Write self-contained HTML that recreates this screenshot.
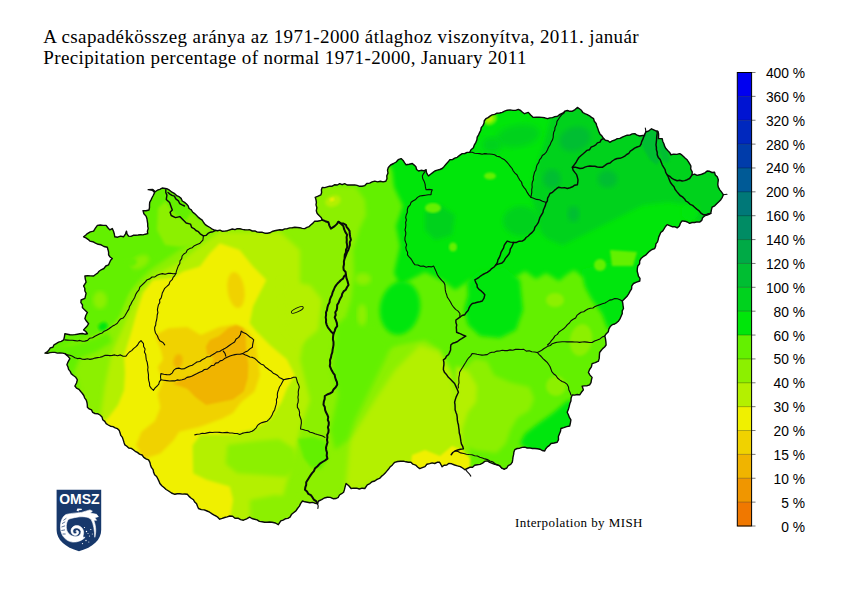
<!DOCTYPE html>
<html><head><meta charset="utf-8"><title>Precipitation percentage of normal</title>
<style>
html,body{margin:0;padding:0;background:#fff;}
body{width:842px;height:595px;overflow:hidden;position:relative;font-family:"Liberation Serif",serif;}
svg{position:absolute;left:0;top:0;}
.t{font-family:"Liberation Serif",serif;font-size:19px;fill:#000;}
.lg{font-family:"Liberation Sans",sans-serif;font-size:13.8px;fill:#000;}
.ip{font-family:"Liberation Serif",serif;font-size:13px;fill:#000;letter-spacing:0.55px;}
</style></head><body>
<svg width="842" height="595" viewBox="0 0 842 595">
<defs>
<clipPath id="hu"><polygon points="148.2,189.6 152.8,189.4 155.2,191.8 157.4,190.2 159.9,189.3 162.2,188.0 166.7,188.7 169.5,190.2 172.0,192.2 174.7,193.7 176.6,195.6 179.1,196.7 181.1,198.4 182.3,201.0 184.6,202.4 186.5,204.0 188.2,205.9 189.1,208.5 191.3,209.8 192.6,212.0 194.6,213.6 196.4,215.2 198.1,217.1 200.0,218.6 202.2,220.1 203.6,222.5 205.3,224.6 207.5,226.1 210.0,227.5 212.3,229.2 215.0,230.3 217.5,230.7 220.0,230.1 222.4,231.3 224.9,231.1 227.4,230.7 229.8,229.8 232.3,229.0 235.0,229.6 237.4,228.6 239.9,228.8 242.4,229.4 244.8,229.8 247.4,229.9 249.9,229.8 252.3,231.0 254.9,230.9 257.3,232.1 259.9,232.3 262.4,232.3 264.8,233.2 267.3,233.2 269.8,232.8 272.1,231.5 274.7,230.8 277.2,230.2 279.8,229.8 282.4,230.0 284.8,228.9 287.3,228.7 289.8,227.9 292.3,227.7 294.8,227.3 297.3,227.5 299.8,227.7 302.2,228.4 304.7,228.6 306.9,227.4 309.2,226.6 311.0,224.8 313.0,223.1 314.7,221.1 317.3,221.3 319.8,220.8 322.2,219.9 321.1,217.4 319.1,215.6 317.2,213.6 316.3,210.8 316.9,207.7 316.0,204.9 316.4,202.3 316.0,199.8 315.2,197.4 318.1,196.2 320.9,194.9 321.6,192.5 321.4,189.8 322.2,187.4 324.8,187.6 327.2,186.9 329.7,186.2 332.2,186.2 334.5,184.8 337.4,185.0 339.7,183.7 342.1,184.7 344.7,183.7 347.1,185.0 349.6,184.9 352.1,185.0 354.7,184.9 357.1,185.4 359.6,186.3 362.1,186.2 364.8,185.6 366.8,183.5 369.7,183.1 372.1,181.9 374.8,181.1 377.6,181.9 380.3,181.2 383.1,181.9 385.8,181.2 387.0,178.6 386.8,175.7 388.0,173.1 387.5,170.2 388.3,167.5 390.6,165.0 393.6,163.5 396.2,162.0 398.2,159.7 401.1,158.6 403.1,160.4 404.5,162.7 406.1,164.8 409.2,164.3 412.3,163.5 414.2,165.1 415.9,166.8 416.6,169.5 418.6,171.0 421.0,170.3 423.6,170.8 426.0,169.8 426.7,173.1 428.5,176.0 430.5,174.2 432.7,172.6 434.8,171.0 437.3,170.2 439.8,169.5 442.2,168.5 444.2,166.4 446.0,164.2 448.0,162.1 449.7,159.8 452.4,159.6 454.7,158.1 457.2,157.3 459.6,155.4 462.2,153.6 464.8,153.5 467.1,152.4 469.7,152.3 471.0,149.7 473.4,147.7 474.4,144.8 475.9,142.3 476.9,139.8 477.2,137.1 478.6,134.8 479.7,132.4 480.8,130.2 481.2,127.6 482.9,125.6 484.0,123.3 484.3,120.7 485.9,118.7 488.1,117.6 490.0,116.1 492.1,114.9 494.7,114.4 497.0,113.2 499.7,113.0 502.2,112.3 504.6,111.2 507.3,110.2 510.0,109.9 512.9,110.4 515.6,110.4 518.3,109.4 520.6,110.5 522.5,112.2 524.5,113.7 528.3,112.4 530.7,115.0 533.3,117.4 536.2,117.1 539.1,117.2 542.0,117.4 544.8,117.8 547.5,118.7 550.0,117.9 552.5,117.6 554.9,116.6 557.5,116.2 559.9,114.4 562.6,113.2 564.9,111.2 567.4,110.5 569.9,111.3 572.4,111.2 575.1,109.6 577.4,107.4 579.4,108.8 581.4,110.3 582.8,112.5 584.9,113.7 587.3,114.6 589.5,115.8 591.5,117.4 593.6,118.7 594.3,121.3 596.1,123.5 596.8,126.0 597.8,128.5 598.6,131.1 599.9,133.9 602.0,136.1 603.6,138.6 605.4,140.3 608.0,140.7 609.8,142.3 612.2,140.9 614.9,140.0 617.3,138.6 619.9,138.4 622.3,137.1 624.7,136.1 627.2,135.2 629.8,135.1 632.2,133.9 634.8,133.6 637.1,135.2 639.7,136.0 644.2,135.3 645.8,132.0 648.9,130.8 651.5,128.8 655.4,130.7 658.0,131.4 658.6,133.8 658.6,136.2 658.5,138.6 662.2,138.6 662.7,141.2 663.9,143.7 664.6,146.2 665.9,148.6 667.7,150.5 669.6,152.4 670.9,154.8 673.8,154.1 676.8,154.4 679.7,153.6 681.8,154.9 683.5,156.5 685.3,158.2 687.1,159.8 688.5,161.8 689.7,163.9 690.9,166.0 690.7,169.0 692.2,171.8 692.1,174.8 694.6,174.1 697.1,175.4 699.6,174.8 702.3,174.0 704.9,172.9 707.1,171.0 709.6,171.3 712.0,172.5 714.6,172.3 715.3,175.1 717.4,177.1 718.3,179.8 718.0,182.3 717.8,184.7 718.3,187.2 719.8,189.8 721.6,192.2 723.3,194.7 722.3,197.3 720.8,199.7 718.8,201.7 716.7,203.7 714.7,205.8 712.1,207.2 711.3,210.3 710.8,213.4 707.8,214.9 704.6,215.9 702.6,217.7 701.8,220.4 699.6,222.1 697.0,221.9 694.6,222.5 692.0,222.5 689.6,223.4 687.3,222.0 684.8,221.2 682.1,220.9 680.4,223.2 679.4,226.0 677.2,227.9 674.8,226.7 672.1,226.7 669.6,225.7 667.2,224.6 665.5,226.5 664.2,228.7 662.8,230.9 660.7,232.5 659.7,234.9 658.7,237.1 658.2,239.5 657.5,241.9 655.9,243.9 655.6,246.3 654.7,248.6 652.0,249.5 649.7,251.1 647.7,253.1 645.6,255.2 643.1,256.7 641.0,258.6 639.7,260.9 639.6,263.8 637.8,266.0 637.3,268.6 637.2,271.2 637.9,273.6 638.4,276.1 640.0,278.4 639.8,281.0 636.6,282.1 633.5,283.5 631.8,285.8 631.6,288.8 630.1,291.1 628.8,293.6 627.3,296.0 624.8,298.5 622.3,301.0 622.8,303.5 623.1,306.0 623.5,308.5 622.2,310.8 622.2,313.7 621.1,316.2 620.1,318.6 618.6,320.9 616.8,322.6 614.7,324.0 612.3,324.7 610.2,326.6 608.9,328.9 608.3,331.7 606.3,333.7 604.8,335.9 605.5,338.9 605.9,341.9 606.1,345.0 604.6,347.0 602.7,348.6 601.1,350.5 599.6,352.5 599.4,355.4 599.2,358.4 598.4,361.2 595.3,362.7 592.1,363.7 591.4,366.8 589.6,369.5 588.4,372.4 590.0,375.1 592.1,377.4 591.4,380.0 591.0,382.6 589.6,384.9 587.2,385.7 584.6,385.9 582.1,386.1 583.4,389.9 581.4,392.3 579.7,394.9 577.2,394.5 574.7,395.1 572.2,394.9 571.1,397.9 570.9,401.1 569.8,403.8 569.1,406.7 568.3,409.6 567.2,412.3 568.4,414.8 569.4,417.4 570.9,419.8 570.4,422.9 569.7,426.0 566.7,426.6 563.8,427.7 560.9,428.5 560.5,431.3 559.4,434.0 558.4,436.6 558.5,439.6 557.2,442.2 554.1,443.0 551.0,443.5 549.5,445.4 547.4,446.9 545.8,448.7 544.7,451.0 542.2,450.5 539.9,449.2 537.4,448.7 534.8,448.5 532.3,448.5 529.8,447.9 527.2,448.0 524.8,447.2 522.2,447.4 519.7,448.2 517.2,448.5 514.8,449.7 513.9,452.1 513.6,454.7 513.0,457.1 512.7,459.7 512.3,462.2 510.7,464.4 508.2,465.6 506.8,468.0 504.3,469.2 501.7,468.1 499.9,465.9 497.4,464.7 494.7,464.3 492.2,463.3 489.7,462.4 487.4,460.9 484.7,461.4 482.6,463.2 480.1,464.4 477.4,464.7 474.7,465.3 472.6,467.2 469.7,467.3 467.3,468.5 464.9,469.7 462.6,468.0 460.3,466.6 457.5,465.9 454.6,465.0 451.7,463.8 448.7,463.4 446.8,465.1 444.1,465.3 442.1,466.8 440.9,464.5 439.6,462.3 437.1,462.3 434.7,463.5 432.1,462.9 429.7,463.6 426.9,464.3 425.0,466.6 422.3,467.6 419.7,468.6 417.6,467.0 415.6,465.1 412.9,464.2 410.9,462.3 408.4,462.3 405.9,461.8 403.5,461.1 400.5,461.3 397.6,461.5 394.7,462.3 392.4,464.9 389.8,467.3 388.4,469.3 386.8,471.1 385.2,473.1 383.5,474.8 381.4,476.4 379.5,478.4 377.0,479.4 374.8,481.0 372.0,481.7 369.9,483.6 367.3,484.8 364.8,488.5 362.1,488.2 359.3,489.0 356.6,488.2 353.8,488.1 351.1,488.5 348.8,485.8 346.1,483.5 345.2,486.4 344.5,489.4 343.6,492.3 341.6,493.7 339.5,495.0 338.3,497.3 336.1,498.5 333.1,498.7 330.3,497.4 327.4,497.3 324.3,498.0 321.6,499.7 318.7,501.0 317.4,503.5 314.9,503.2 312.5,502.4 309.9,502.7 307.4,502.2 304.9,501.8 302.5,501.0 300.7,503.4 299.4,506.1 297.5,508.5 295.9,510.9 293.5,512.7 291.4,514.6 290.0,517.2 287.8,518.4 285.3,518.8 283.1,520.1 280.8,520.9 278.3,524.7 275.4,523.0 272.1,522.2 269.6,522.0 267.1,522.3 264.6,522.2 262.1,521.7 259.4,521.4 257.1,519.9 254.5,519.2 251.9,518.5 249.6,517.2 246.6,518.9 243.4,520.2 240.6,519.6 238.0,518.2 235.0,518.2 232.6,516.2 229.7,516.0 227.2,516.8 224.7,517.5 222.2,518.4 219.7,519.2 218.0,517.4 216.0,516.0 213.7,514.9 211.7,513.6 209.7,512.2 207.0,511.0 204.3,509.9 201.3,509.6 198.5,508.5 197.5,506.2 196.6,503.8 194.7,502.0 193.5,499.8 191.2,498.2 189.1,496.4 187.3,494.3 184.8,494.0 182.3,494.1 179.8,493.7 177.3,493.8 174.8,494.3 171.5,493.0 168.6,491.0 166.1,489.5 164.0,487.5 161.8,485.7 159.9,483.5 158.9,481.1 157.8,478.8 156.6,476.5 154.6,474.7 153.6,472.3 153.1,469.6 151.4,467.4 150.5,464.9 149.9,462.3 148.6,459.9 146.0,458.9 143.8,457.4 142.1,455.0 139.5,454.1 137.4,452.4 135.2,451.3 133.3,449.8 131.3,448.4 128.7,448.0 126.9,446.3 124.9,444.9 124.0,442.4 123.2,439.9 122.4,437.4 120.8,435.4 120.1,433.0 119.3,430.6 117.5,428.7 115.2,427.8 113.0,426.6 110.5,426.2 108.3,425.0 106.2,423.7 104.8,421.4 102.7,419.7 102.0,416.9 100.0,415.0 97.6,413.7 94.9,413.5 92.7,412.4 91.5,409.9 89.2,408.9 87.4,407.2 87.3,404.7 86.9,402.2 86.1,399.8 84.6,397.8 83.8,395.5 82.4,393.5 80.7,391.5 79.0,389.4 76.5,388.1 74.9,386.0 76.5,383.0 77.4,379.8 75.8,377.3 73.4,375.5 71.2,373.6 70.2,371.4 68.6,369.4 68.0,367.0 66.9,364.8 68.2,361.6 69.9,358.6 67.6,355.9 64.9,353.6 62.5,353.1 60.0,352.9 57.4,353.1 55.0,352.4 52.5,352.4 50.0,352.6 47.5,353.4 45.0,353.1 47.2,351.9 48.9,350.1 50.3,347.9 52.9,347.2 54.0,344.8 56.2,343.6 58.6,342.2 61.3,341.4 63.7,339.9 64.4,336.8 64.9,333.7 67.4,334.2 69.9,334.7 72.4,334.9 74.9,334.6 77.4,334.2 79.9,333.8 82.4,333.5 84.9,334.2 87.4,333.7 85.8,331.5 83.6,329.9 85.3,327.9 87.2,326.0 88.6,323.7 86.6,321.3 84.9,318.7 85.8,315.5 87.4,312.5 84.8,310.1 82.4,307.5 82.5,304.9 80.9,302.6 81.1,300.0 84.9,298.4 85.5,295.9 86.1,293.4 84.9,291.0 84.8,288.3 83.6,286.0 86.1,282.2 85.3,279.1 84.9,276.0 87.8,275.8 90.7,275.9 93.6,276.0 95.5,274.5 97.6,273.2 99.1,271.2 101.1,269.8 103.9,268.5 105.8,266.0 108.6,264.8 109.6,262.5 110.6,260.3 112.3,258.5 110.1,257.0 108.6,254.8 108.6,252.2 108.0,249.7 107.3,247.3 104.0,246.5 101.1,244.8 98.2,244.3 95.5,243.1 92.8,241.7 89.9,241.1 88.0,239.3 85.9,237.9 83.6,236.8 85.6,235.3 87.4,233.6 90.3,231.9 93.6,231.1 95.4,228.2 97.4,225.4 100.3,225.0 103.2,225.4 106.1,225.4 107.9,227.7 109.8,229.9 112.3,228.6 113.5,231.2 114.3,234.0 114.8,236.8 117.7,237.2 120.6,236.1 123.5,236.8 125.4,234.1 126.5,231.1 127.0,233.8 128.5,236.1 131.0,236.4 133.3,235.3 135.7,235.2 138.1,235.0 140.5,234.7 143.0,234.9 145.3,234.2 147.7,233.6 147.4,231.1 148.2,228.6 147.7,226.1 147.7,223.6 147.3,221.1 146.9,218.5 146.0,216.1 143.9,213.7 143.0,210.6 146.0,210.7 149.0,210.0 149.5,207.5 149.5,204.9 149.7,202.4 150.9,200.1 152.0,197.8 153.2,195.5 154.6,192.6 152.4,190.2"/></clipPath>
<filter id="b2" x="-20%" y="-20%" width="140%" height="140%"><feGaussianBlur stdDeviation="2"/></filter>
<filter id="b4" x="-20%" y="-20%" width="140%" height="140%"><feGaussianBlur stdDeviation="4"/></filter>
</defs>
<text x="43.2" y="42.6" class="t" textLength="595.5" lengthAdjust="spacing">A csapadékösszeg aránya az 1971-2000 átlaghoz viszonyítva, 2011. január</text>
<text x="43.2" y="63.6" class="t" textLength="483.2" lengthAdjust="spacing">Precipitation percentage of normal 1971-2000, January 2011</text>
<g clip-path="url(#hu)">
<rect x="40" y="100" width="700" height="440" fill="#64f000"/>
<defs><filter id="bl0_8" x="-10%" y="-10%" width="120%" height="120%"><feGaussianBlur stdDeviation="0.8"/></filter><filter id="bl1" x="-10%" y="-10%" width="120%" height="120%"><feGaussianBlur stdDeviation="1"/></filter><filter id="bl1_2" x="-10%" y="-10%" width="120%" height="120%"><feGaussianBlur stdDeviation="1.2"/></filter><filter id="bl1_3" x="-10%" y="-10%" width="120%" height="120%"><feGaussianBlur stdDeviation="1.3"/></filter><filter id="bl1_5" x="-10%" y="-10%" width="120%" height="120%"><feGaussianBlur stdDeviation="1.5"/></filter><filter id="bl2" x="-10%" y="-10%" width="120%" height="120%"><feGaussianBlur stdDeviation="2"/></filter><filter id="bl2_5" x="-10%" y="-10%" width="120%" height="120%"><feGaussianBlur stdDeviation="2.5"/></filter><filter id="bl3" x="-10%" y="-10%" width="120%" height="120%"><feGaussianBlur stdDeviation="3"/></filter></defs>
<rect x="30" y="90" width="720" height="450" fill="#00e60a"/>
<polygon points="380.0,150.0 392.0,170.0 394.0,187.0 403.0,206.0 396.0,226.0 400.0,246.0 394.0,273.0 400.0,285.0 425.0,272.0 445.0,282.0 455.0,290.0 470.0,280.0 500.0,282.0 516.0,277.0 525.0,271.0 536.0,279.0 546.0,273.0 559.0,281.0 566.0,275.0 574.0,270.0 582.0,276.0 600.0,270.0 650.0,270.0 650.0,300.0 640.0,600.0 30.0,600.0 30.0,150.0" fill="#64f000" filter="url(#bl2)"/>
<ellipse cx="400" cy="308" rx="20" ry="27" fill="#00e60a" transform="rotate(10 400 308)" filter="url(#bl2)"/>
<polygon points="467.0,282.0 480.0,270.0 505.0,268.0 520.0,280.0 523.0,310.0 516.0,330.0 500.0,338.0 480.0,336.0 468.0,325.0 464.0,310.0 468.0,295.0" fill="#00e60a" filter="url(#bl2)"/>
<polygon points="581.0,270.0 600.0,264.0 650.0,258.0 645.0,295.0 632.0,308.0 620.0,322.0 608.0,330.0 602.0,314.0 592.0,300.0 585.0,287.0" fill="#00e60a" filter="url(#bl2)"/>
<polygon points="520.0,443.5 524.7,434.1 536.5,424.7 552.9,412.9 567.1,401.0 575.0,400.0 575.0,430.0 562.4,440.0 555.3,450.0 543.5,455.0 530.0,452.0" fill="#00e60a" filter="url(#bl2)"/>
<polygon points="323.0,186.0 355.0,186.0 365.0,200.0 366.0,215.0 359.0,230.0 353.0,250.0 354.0,275.0 351.0,300.0 345.0,320.0 350.0,345.0 372.0,352.0 400.0,345.0 425.0,340.0 440.0,350.0 445.0,380.0 470.0,400.0 470.0,600.0 30.0,600.0 30.0,250.0 120.0,300.0 150.0,270.0 200.0,236.0 210.0,225.0 300.0,222.0" fill="#8cf000" filter="url(#bl2)"/>
<polygon points="176.0,190.0 186.0,200.0 196.0,212.0 200.0,225.0 196.0,236.0 184.0,243.0 170.0,250.0 156.0,258.0 145.0,268.0 136.0,279.0 129.0,292.0 124.0,305.0 119.0,317.0 112.0,326.0 100.0,333.0 73.0,343.0 40.0,353.0 40.0,180.0 170.0,180.0" fill="#64f000" filter="url(#bl1_5)"/>
<polygon points="158.0,208.0 166.0,201.0 171.0,210.0 177.0,217.0 186.0,221.0 191.0,213.0 200.0,220.0 212.0,231.0 204.0,237.0 196.0,245.0 180.0,247.0 165.0,245.0 157.0,230.0" fill="#8cf000" filter="url(#bl1_5)"/>
<ellipse cx="140" cy="262" rx="10" ry="6" fill="#8cf000" transform="rotate(-30 140 262)" filter="url(#bl2)"/>
<ellipse cx="100" cy="300" rx="7" ry="9" fill="#8cf000" filter="url(#bl2)"/>
<ellipse cx="103" cy="326.5" rx="5" ry="4" fill="#00e60a" transform="rotate(-30 103 326.5)" filter="url(#bl1_5)"/>
<polygon points="40.0,345.0 70.0,345.0 95.0,338.0 108.0,332.0 112.0,342.0 96.0,352.0 80.0,358.0 74.0,372.0 80.0,390.0 70.0,385.0 60.0,365.0 40.0,360.0" fill="#64f000" filter="url(#bl2)"/>
<polygon points="219.0,232.0 280.0,232.0 300.0,250.0 300.0,300.0 305.0,330.0 300.0,360.0 310.0,400.0 300.0,430.0 290.0,470.0 282.0,500.0 270.0,560.0 120.0,560.0 100.0,420.0 105.0,385.0 112.0,352.0 122.0,330.0 130.0,310.0 140.0,290.0 155.0,275.0 180.0,262.0 200.0,246.0" fill="#b4f000" filter="url(#bl2)"/>
<polygon points="420.0,345.0 440.0,352.0 452.0,372.0 456.0,400.0 462.0,445.0 455.0,470.0 380.0,480.0 345.0,495.0 350.0,440.0 375.0,400.0 395.0,370.0" fill="#b4f000" filter="url(#bl2_5)"/>
<polygon points="280.0,280.0 310.0,285.0 322.0,300.0 318.0,330.0 300.0,345.0 285.0,330.0" fill="#b4f000" filter="url(#bl2)"/>
<polygon points="227.5,444.7 256.0,440.9 278.9,439.0 294.1,448.5 297.9,467.5 286.5,477.0 261.7,475.1 237.0,473.2 225.6,463.7" fill="#8cf000" filter="url(#bl2)"/>
<polygon points="250.0,500.0 275.0,495.0 300.0,498.0 300.0,525.0 250.0,525.0" fill="#8cf000" filter="url(#bl2)"/>
<polygon points="297.9,439.0 313.1,437.1 326.4,440.9 328.3,458.0 320.7,469.4 311.2,467.5 303.6,458.0" fill="#64f000" filter="url(#bl1_5)"/>
<polygon points="336.0,325.0 345.0,318.0 360.0,322.0 378.0,330.0 392.0,345.0 385.0,360.0 375.0,380.0 365.0,400.0 355.0,420.0 348.0,440.0 335.0,450.0 330.0,430.0 338.0,395.0 332.0,370.0 334.0,345.0" fill="#64f000" filter="url(#bl2_5)"/>
<polygon points="461.2,370.6 475.3,358.8 487.1,361.2 494.1,375.3 510.6,382.4 529.4,387.1 534.1,398.8 529.4,410.6 517.6,417.6 510.6,429.4 505.9,443.5 496.5,452.9 475.3,450.6 461.2,443.5 456.5,422.4 454.1,403.5 458.8,387.1" fill="#8cf000" filter="url(#bl2)"/>
<polygon points="456.0,366.0 468.0,371.0 477.0,386.0 476.0,402.0 468.0,412.0 462.0,430.0 462.0,456.0 454.0,456.0" fill="#b4f000" filter="url(#bl2)"/>
<ellipse cx="556" cy="386" rx="10" ry="10" fill="#8cf000" filter="url(#bl1_5)"/>
<ellipse cx="581" cy="340" rx="11" ry="16" fill="#8cf000" transform="rotate(10 581 340)" filter="url(#bl1_5)"/>
<ellipse cx="555" cy="300" rx="9" ry="7" fill="#8cf000" filter="url(#bl1_5)"/>
<ellipse cx="363" cy="279" rx="8" ry="6" fill="#8cf000" filter="url(#bl2)"/>
<ellipse cx="362" cy="315" rx="5" ry="11" fill="#8cf000" filter="url(#bl2)"/>
<ellipse cx="333" cy="201" rx="8" ry="5.5" fill="#b4f000" transform="rotate(-20 333 201)" filter="url(#bl1_5)"/>
<ellipse cx="332" cy="199.5" rx="2.5" ry="1.8" fill="#f0f000" transform="rotate(-20 332 199.5)" filter="url(#bl0_8)"/>
<ellipse cx="131" cy="262" rx="6" ry="4" fill="#64f000" filter="url(#bl1_5)"/>
<polygon points="219.8,243.3 239.7,249.9 253.0,266.6 266.4,279.9 259.7,293.2 253.0,306.5 249.7,323.2 256.0,331.0 270.7,345.7 286.8,359.2 294.9,375.3 286.8,388.8 281.4,402.2 270.7,418.4 254.5,429.1 233.0,434.5 200.7,434.5 192.6,445.3 193.2,473.2 206.5,479.8 229.8,486.5 233.1,499.8 229.8,520.0 190.0,515.0 140.0,470.0 100.0,425.0 108.0,418.0 118.0,405.0 124.0,390.0 125.0,373.0 124.0,356.0 127.0,346.0 131.0,333.0 136.5,313.0 143.0,293.0 153.0,280.0 173.0,278.0 183.0,271.6 199.8,266.6 209.8,253.3" fill="#f0f000" filter="url(#bl1_5)"/>
<polygon points="412.0,455.0 425.0,450.0 440.0,456.0 452.0,446.0 462.0,450.0 470.0,458.0 470.0,475.0 410.0,475.0" fill="#f0f000" filter="url(#bl1_2)"/>
<ellipse cx="236" cy="290" rx="8.5" ry="18" fill="#f0d200" transform="rotate(-8 236 290)" filter="url(#bl1_5)"/>
<polygon points="155.0,335.0 168.4,328.2 187.3,326.9 200.7,335.0 219.5,326.9 235.7,324.2 246.4,329.6 254.5,340.4 257.2,353.8 259.9,375.3 254.5,391.5 241.1,402.2 233.0,413.0 222.2,418.4 200.7,426.4 179.2,431.8 173.8,439.9 160.4,453.4 144.2,458.7 136.1,445.3 141.5,431.8 155.0,421.1 160.4,407.6 157.7,394.2 163.0,380.7 157.7,367.3 163.0,359.2 160.4,348.4" fill="#f0d200" filter="url(#bl1_5)"/>
<polygon points="205.9,346.6 209.8,339.9 219.1,336.0 228.5,328.0 236.4,325.3 243.1,328.0 245.7,334.6 246.0,346.0 247.0,356.0 248.4,365.2 247.8,378.0 243.8,391.5 233.0,399.6 219.5,402.2 206.1,404.9 195.3,396.9 187.3,388.8 176.5,385.0 172.6,384.0 183.2,378.5 196.5,373.2 209.8,367.9 214.0,358.0 207.2,354.6" fill="#f0b400" filter="url(#bl1_3)"/>
<ellipse cx="178" cy="361" rx="4.5" ry="7" fill="#f0b400" transform="rotate(10 178 361)" filter="url(#bl1_5)"/>
<polygon points="554.0,110.0 548.0,128.0 542.0,150.0 535.0,170.0 531.0,195.0 536.0,215.0 541.1,232.9 547.3,239.1 562.7,245.3 581.3,236.0 599.8,226.7 618.4,217.5 643.1,205.1 667.8,202.0 686.4,205.1 695.7,220.6 740.0,230.0 740.0,100.0 554.0,100.0" fill="#00d21e" filter="url(#bl2)"/>
<ellipse cx="521" cy="221" rx="18" ry="15" fill="#00d21e" filter="url(#bl2_5)"/>
<ellipse cx="518" cy="136" rx="22" ry="11" fill="#00d21e" transform="rotate(-10 518 136)" filter="url(#bl3)"/>
<ellipse cx="492" cy="145" rx="10" ry="8" fill="#00d21e" filter="url(#bl3)"/>
<polygon points="425.0,212.0 440.0,205.0 455.0,215.0 452.0,235.0 435.0,240.0 425.0,230.0" fill="#00d21e" filter="url(#bl2)"/>
<polygon points="645.0,133.0 652.0,129.0 657.0,132.0 658.0,145.0 660.0,160.0 657.0,165.0 650.0,160.0 643.0,148.0 641.0,140.0" fill="#00be32" filter="url(#bl1_2)"/>
<polygon points="659.0,139.0 663.0,140.0 667.0,150.0 670.0,158.0 668.0,163.0 662.0,160.0 659.0,150.0" fill="#00be32" filter="url(#bl1_2)"/>
<ellipse cx="575" cy="139" rx="16" ry="12" fill="#00be32" transform="rotate(-20 575 139)" filter="url(#bl2_5)"/>
<ellipse cx="552" cy="179" rx="9" ry="10" fill="#00be32" filter="url(#bl2_5)"/>
<ellipse cx="607.5" cy="179" rx="10" ry="9" fill="#00be32" filter="url(#bl2_5)"/>
<ellipse cx="573.5" cy="214" rx="6" ry="8" fill="#00be32" filter="url(#bl2_5)"/>
<ellipse cx="490" cy="176" rx="6" ry="3.5" fill="#64f000" filter="url(#bl1_2)"/>
<ellipse cx="690" cy="212" rx="9" ry="8" fill="#00e60a" filter="url(#bl2)"/>
<ellipse cx="433" cy="208" rx="8" ry="5" fill="#64f000" filter="url(#bl1_2)"/>
<ellipse cx="453" cy="247" rx="4" ry="4.5" fill="#64f000" filter="url(#bl1_2)"/>
<polygon points="610.0,250.0 637.0,252.0 633.0,266.0 612.0,266.0" fill="#64f000" filter="url(#bl1_2)"/>
<ellipse cx="600" cy="265" rx="6" ry="6" fill="#64f000" filter="url(#bl1_2)"/>
<ellipse cx="490" cy="119" rx="7.5" ry="6" fill="#64f000" transform="rotate(-30 490 119)" filter="url(#bl1_2)"/>
<ellipse cx="489.5" cy="119" rx="4" ry="3" fill="#b4f000" transform="rotate(-30 489.5 119)" filter="url(#bl1)"/>
</g>
<g fill="none" stroke="#0a0a0a" stroke-linejoin="round" stroke-linecap="round">
<polyline points="644.7,134.9 643.6,137.1 642.8,139.4 641.7,141.6 641.1,144.0 639.8,146.1 637.1,147.0 634.6,148.2 632.3,149.8 630.3,151.2 628.8,153.3 626.7,154.5 624.8,156.1 622.4,157.3 619.9,158.3 617.1,158.5 614.6,159.5 612.3,161.0 610.1,163.0 607.1,163.8 604.7,165.6 602.3,167.3 599.8,167.2 597.3,167.0 594.9,166.3 592.4,166.3 589.9,166.0 587.3,166.4 584.9,167.1 582.5,168.3 579.9,168.5 577.5,167.8 575.0,167.1 572.4,167.3 573.1,170.1 574.8,172.4 576.6,174.6 577.4,177.3 578.0,179.8 577.8,182.2 577.4,184.7 574.7,185.2 572.5,186.8 570.0,187.7 567.4,188.5 564.6,187.6 561.6,187.9 558.7,187.2 556.5,188.7 554.4,190.4 552.5,192.3 550.0,193.5 548.9,195.8 547.6,198.1 547.4,200.8 546.0,203.0 545.4,205.4 544.4,207.7 543.4,210.0 542.9,212.7 541.4,215.0 540.0,217.3 539.2,219.8 538.4,222.4 536.8,224.9 534.9,227.2 534.1,230.1 532.2,232.4 530.1,234.1 528.3,236.0 526.1,237.5 524.5,239.7 522.2,241.1 519.3,241.2 516.5,242.4 513.5,242.4 510.3,242.1 507.2,241.1 505.6,243.2 504.2,245.4 503.6,247.9 502.3,250.2 501.0,252.4 500.3,255.0 499.3,257.5 497.9,259.8 497.4,262.5 496.0,264.8 494.1,267.0 491.7,268.6 489.7,270.7 487.3,272.3 485.1,273.4 482.9,274.5 480.9,275.8 479.0,277.3 477.0,278.7 474.8,279.8 475.7,282.3 477.0,284.6 477.3,287.3 479.0,289.4 481.2,290.9 483.1,292.8 484.8,294.8 484.0,298.1 482.3,301.0 479.8,301.7 477.3,302.2 474.8,303.0 472.3,303.5 470.4,305.5 469.1,307.9 468.1,310.4 466.3,312.4 464.8,314.7 462.1,315.5 459.9,317.2 457.9,318.6 455.9,320.0 455.9,322.5 456.7,324.9 456.3,327.4 456.5,329.8 456.6,332.3 458.9,333.2 461.2,334.2 463.5,335.3 465.8,336.2 463.7,337.4 461.7,338.7 459.6,339.9 457.6,341.5 455.3,342.5 452.8,343.2 450.9,344.9 450.6,347.4 450.6,350.0 449.6,352.4 448.5,354.7 446.5,356.1 445.4,358.4 443.4,359.9 443.9,362.4 443.9,364.9 443.5,367.3 443.4,369.8 444.6,372.6 446.7,374.8 448.4,377.3 450.5,379.3 452.6,381.4 454.6,383.5 455.9,386.4 457.2,389.3 458.4,392.3 457.2,394.7 456.1,397.1 455.3,399.6 454.6,402.2 455.0,404.7 455.1,407.2 455.1,409.8 455.9,412.2 456.8,414.6 457.2,417.1 457.3,419.7 457.7,422.2 458.4,424.7 458.7,427.5 459.1,430.2 459.3,433.0 460.1,435.7 460.5,438.5 460.9,441.2 461.4,443.8 462.7,446.3 463.4,448.9 460.5,449.2 457.7,450.0 455.0,451.0 452.8,452.5 451.2,454.7" stroke-width="1.45"/>
<polyline points="513.5,242.4 512.7,244.7 511.6,247.0 510.3,249.2 509.9,251.7 509.0,254.0 507.2,256.2 505.4,258.4 504.0,261.0 502.0,263.0 499.0,263.9 496.0,264.8" stroke-width="1.45"/>
<polyline points="426.0,169.8 424.8,171.9 423.4,173.8 422.3,176.0 422.8,178.8 424.2,181.4 425.1,184.1 425.4,186.9 426.0,189.7 429.1,189.4 432.3,189.7 431.3,192.1 431.0,194.7 428.2,194.8 425.4,195.2 422.6,195.6 419.8,196.0 417.5,197.4 415.7,199.4 413.3,200.7 411.1,202.2 410.2,204.9 408.1,207.0 407.3,209.7 407.3,212.5 406.2,215.0 405.7,217.5 406.4,220.0 405.6,222.5 405.9,225.0 405.6,227.5 405.0,229.9 405.8,232.5 405.7,234.9 405.0,237.4 404.9,240.0 405.7,242.4 406.6,244.8 405.8,247.5 406.3,250.0 407.6,252.3 407.5,254.9 409.1,256.8 410.8,258.6 412.2,260.7 413.4,262.9 415.0,264.8 417.9,265.0 420.5,266.3 423.5,266.1 426.2,267.3 428.6,266.5 431.3,266.9 433.7,266.1 435.0,269.0 436.3,271.9 437.4,274.8 438.8,276.9 440.4,278.8 442.0,280.7 443.9,282.5 444.9,284.8 445.1,287.4 445.3,289.9 445.8,292.4 446.7,294.8 447.4,297.3 449.1,299.7 450.6,302.2 451.9,304.8 453.6,307.2 455.6,309.4 458.1,311.1 459.9,313.5 459.9,317.2" stroke-width="1.1"/>
<polyline points="469.7,152.3 472.2,152.3 474.7,153.2 477.2,153.5 479.7,153.6 482.1,154.2 484.7,153.6 487.2,153.9 489.7,154.0 492.1,154.3 494.6,154.8 497.0,156.3 499.8,156.9 502.1,158.6 504.6,159.8 506.7,161.8 508.5,164.0 510.3,166.3 512.1,168.5 513.3,171.0 515.0,173.1 517.1,175.0 518.3,177.4 519.6,179.8 521.5,182.0 522.3,185.0 523.9,187.4 525.8,189.7 527.2,192.4 528.8,194.9 530.8,197.2 533.6,198.3 536.5,199.4 539.5,199.7 542.5,201.3 545.7,202.2" stroke-width="1.1"/>
<polyline points="564.9,111.2 563.7,113.4 561.6,114.8 560.1,116.7 558.7,118.7 557.0,121.4 556.5,124.6 555.0,127.4 554.8,130.0 553.7,132.3 553.3,134.9 553.2,137.4 552.5,139.9 551.1,142.3 550.1,144.9 548.5,147.2 547.5,149.8 546.3,152.1 544.6,154.0 542.3,155.5 541.2,157.9 539.5,159.8 538.8,162.4 537.2,164.7 536.4,167.2 535.9,170.0 534.5,172.3 533.9,174.8 533.3,177.2 533.4,179.8 532.3,182.2 532.0,184.7 532.2,187.2 531.7,189.7 531.8,192.2 531.4,194.7 530.8,197.2" stroke-width="1.1"/>
<polyline points="603.6,138.6 601.3,139.7 600.0,142.1 597.4,142.9 595.8,144.9 593.6,146.1 591.1,147.2 589.6,149.7 586.8,150.4 584.9,152.3 582.9,154.0 580.8,155.7 578.9,157.5 577.4,159.8 576.0,162.5 574.2,164.9 572.4,167.3" stroke-width="1.45"/>
<polyline points="657.2,131.1 657.1,133.9 656.7,136.6 656.6,139.3 656.3,142.1 656.0,144.8 656.4,147.3 656.4,149.8 657.2,152.3 657.2,154.8 658.3,157.4 660.2,159.5 661.2,162.2 662.2,164.8 663.6,167.2 665.1,169.6 665.7,172.4 667.2,174.8 669.8,176.3 672.0,178.4 674.7,179.8 677.1,180.7 679.7,180.3 682.1,181.0 684.7,180.6 687.2,179.7 689.6,178.5 692.1,174.8" stroke-width="1.45"/>
<polyline points="667.2,174.8 668.4,177.3 669.4,179.9 670.5,182.5 672.2,184.7 674.0,186.8 675.0,189.3 676.6,191.4 678.4,193.5 680.1,195.5 682.5,196.9 684.4,198.7 685.9,201.0 688.2,202.4 690.1,204.3 692.6,205.4 694.6,207.2 696.8,209.1 699.1,210.8 700.9,213.1 703.3,214.7 705.9,214.8 708.3,213.7 710.8,213.4" stroke-width="1.45"/>
<polyline points="458.4,388.0 458.2,385.4 459.0,382.8 458.8,380.1 458.8,377.5 459.4,374.9 459.6,372.3 461.1,369.8 462.7,367.3 464.2,364.8 465.8,362.3 467.1,360.0 468.7,357.8 470.7,355.9 472.1,353.6 474.6,353.7 477.0,354.3 479.5,354.7 482.0,355.1 484.5,354.9 487.2,354.6 489.4,353.1 491.9,352.3 494.6,352.1 497.0,351.1 499.6,351.0 502.2,350.3 504.8,350.6 507.4,350.6 510.0,349.9 512.8,350.2 515.5,349.4 518.2,349.4 521.0,349.5 523.8,349.4 526.3,351.1 529.2,350.7 531.8,351.8 534.6,352.0 537.3,352.5 539.2,354.6 541.2,356.5 543.0,358.7 545.1,360.5 547.2,362.4 548.7,364.5 550.1,366.7 551.0,369.2 551.8,371.7 553.5,373.7 555.9,375.5 557.5,378.0 559.7,379.9 562.1,381.5 564.9,382.6 567.2,384.4 568.5,386.9 568.8,389.7 570.0,392.2 570.9,394.9" stroke-width="1.1"/>
<polyline points="537.3,352.5 539.5,351.4 541.7,350.3 543.7,348.7 545.8,347.5 547.9,346.1 550.4,345.5 552.2,343.7 554.6,342.9 557.1,342.2 559.7,342.0 562.2,341.8 564.7,341.8 567.2,341.9 569.7,341.9 572.2,341.7 574.7,342.0 577.1,342.0 579.6,342.4 582.1,342.0 584.6,341.9 587.1,342.1 589.6,342.5 592.1,342.5 594.6,341.1 597.3,340.1 599.9,338.9 602.2,337.1 604.8,335.9" stroke-width="1.1"/>
<polyline points="547.5,345.0 549.8,343.0 551.4,340.6 553.4,338.4 555.0,335.9 557.4,334.4 558.9,332.0 561.3,330.4 563.6,328.8 565.6,326.9 567.4,324.7 569.4,323.0 571.0,320.8 573.2,319.3 575.6,318.0 576.9,315.4 579.0,313.8 581.1,312.2 583.7,311.8 585.8,310.3 588.0,309.1 590.4,308.2 593.0,308.0 595.1,306.4 597.5,305.6 599.9,304.7 602.4,303.8 605.0,303.0 607.3,301.6 609.6,300.1 612.4,299.6 614.8,298.5 617.5,298.8 620.0,299.7 622.3,301.0" stroke-width="1.1"/>
<polyline points="455.0,451.0 458.0,451.4 460.7,452.9 463.7,453.5 466.4,454.2 469.2,454.5 472.0,454.7 474.6,455.8 477.4,456.0 479.8,457.3 482.4,458.0 484.9,458.9 487.5,459.6 489.9,460.9 492.6,461.8 494.8,463.5 497.0,465.1 499.8,466.0 501.7,468.1 504.3,469.2" stroke-width="1.1"/>
<polyline points="165.8,189.7 165.8,192.5 166.9,195.1 166.3,199.4 169.6,202.6 171.2,206.9 172.3,210.1 170.1,212.3 171.2,215.5 175.5,217.6 179.8,216.6 183.0,219.8 186.2,223.0 190.5,224.1 191.6,227.3 194.0,228.6 195.9,230.5 198.4,231.7 200.2,233.8 203.4,235.9 206.0,235.4 208.0,233.4 210.4,232.2 213.0,231.7 215.3,230.5" stroke-width="1.45"/>
<polyline points="168.0,192.5 169.9,194.1 172.0,195.4 174.4,196.1 175.8,198.9 178.4,200.9 179.8,203.7 182.1,204.9 184.5,206.0" stroke-width="1.45"/>
<polyline points="203.4,235.9 202.9,240.2 199.6,243.6 197.0,244.6 194.4,245.7 192.3,247.7 189.6,248.6 187.3,250.0 186.1,252.6 183.8,254.0 182.1,256.0 181.7,258.7 180.0,260.9 179.8,263.6 178.3,265.9 177.4,268.4 176.5,270.9 175.9,273.5 174.7,275.6 173.1,277.4 172.2,279.7 170.0,281.6 169.0,284.5 166.9,286.4 164.7,288.3 163.4,290.9 162.3,293.1 161.8,295.5 161.2,297.9 159.6,299.9 159.8,302.6 158.5,304.7 157.9,307.2 157.4,309.8 157.9,312.5 157.2,315.0 157.0,317.5 156.6,320.0 155.9,322.4 155.7,325.0 154.7,327.3 154.7,329.9 155.5,333.0 157.4,335.7 158.5,338.7 160.2,341.1 163.0,342.5 164.7,344.9" stroke-width="1.1"/>
<polyline points="175.9,273.5 173.2,273.8 170.5,273.2 167.8,273.4 165.1,274.3 162.4,273.6 159.7,274.2 157.1,275.2 154.9,276.9 152.0,277.0 149.8,278.9 147.2,279.7 145.5,281.7 143.6,283.5 141.6,285.3 139.8,287.2 139.0,289.9 137.1,292.1 135.7,294.5 134.8,297.2 133.5,299.5 132.0,301.7 130.9,304.2 129.5,306.4 128.9,309.1 127.4,311.4 126.1,313.7 124.8,316.0 123.1,318.1 120.4,319.1 118.7,321.2 117.1,323.5 114.8,324.9 112.6,326.1 110.6,327.5 108.6,329.0 106.5,330.3 104.2,331.2 102.3,332.9 99.9,333.7 97.4,334.9 94.9,336.2 92.6,337.8 89.7,338.2 87.6,340.4 84.9,341.1 82.4,341.3 79.9,340.4 77.4,341.0 74.9,340.6 72.4,340.3 69.9,340.3 67.4,340.1 64.9,339.9" stroke-width="1.1"/>
<polyline points="64.9,353.6 67.3,354.9 70.0,355.3 72.5,356.3 74.9,357.7 77.4,358.6 79.9,358.2 82.4,359.3 84.9,359.4 87.4,358.7 89.9,359.4 92.4,358.9 94.9,358.1 97.4,357.6 100.0,357.3 102.5,356.6 104.8,355.4 107.3,355.2 109.8,355.6 112.3,355.4 114.8,354.9 117.5,355.8 120.5,354.9 123.1,356.3 126.0,356.1 127.6,354.0 129.4,352.0 131.7,350.6 133.5,348.6 135.7,346.9 137.6,345.0 139.0,342.5 141.0,340.6 143.5,343.6 143.6,346.4 145.1,349.0 144.4,352.0 145.7,354.6 146.0,357.4 146.3,359.9 147.2,362.3 147.6,364.8 148.0,367.3 147.7,369.8 148.1,372.3 148.5,374.8 148.4,377.6 148.7,380.4 149.5,383.2 149.7,386.0 151.3,388.4 153.5,390.3 155.1,387.9 157.2,386.0 158.8,384.2 159.4,381.7 160.9,379.8" stroke-width="1.1"/>
<polyline points="160.9,373.6 163.8,374.2 166.7,374.6 169.7,374.8 172.2,373.1 173.6,370.4 175.9,368.6 178.8,368.1 181.7,369.0 184.6,368.6 187.0,367.2 189.5,366.0 192.3,365.2 194.6,363.6 196.9,362.0 199.8,361.5 202.1,359.8 204.6,358.6 206.9,356.9 209.8,356.5 212.1,354.9 214.6,353.6 216.8,351.9 219.7,351.5 222.0,349.9 224.7,348.6 227.2,347.0 229.6,345.3 232.0,343.6 234.6,342.0 236.1,339.0 238.7,337.4 240.5,334.5 241.2,331.1 243.2,332.5 245.6,333.4 247.5,334.9 249.5,336.7 251.8,338.1 253.7,339.9 253.1,342.3 252.6,344.8 252.4,347.3 249.9,348.9 247.7,350.9 245.0,352.1 242.5,353.6 240.0,354.3 237.4,354.3 234.9,354.6 232.4,355.3 230.0,356.1 227.2,357.3 224.5,358.6 222.6,360.2 220.1,360.9 218.3,362.6 215.7,363.1 214.1,365.2 211.4,365.6 209.6,367.3 207.4,369.1 204.4,369.5 202.2,371.2 199.6,372.2 197.1,373.6 194.6,374.8 192.2,376.0 189.6,376.9 187.0,377.4 184.7,379.0 182.1,379.8 179.6,380.2 177.1,379.9 174.7,380.9 172.2,380.9 169.7,381.0 166.8,380.6 163.8,380.2 160.9,379.8 160.5,376.7 160.9,373.6" stroke-width="1.1"/>
<polyline points="645.3,128.0 645.8,130.8 645.3,133.5" stroke-width="1.1"/>
<polyline points="723.3,194.7 727.0,194.2" stroke-width="1.1"/>
<polyline points="465.8,469.8 467.4,471.9 469.3,473.8 470.8,476.1" stroke-width="1.1"/>
<polyline points="317.4,503.5 318.2,505.9 317.9,508.5" stroke-width="1.1"/>
<polyline points="223.3,351.1 225.0,353.4 225.8,356.1" stroke-width="1.1"/>
<polyline points="242.5,353.6 244.9,354.7 247.4,355.7 249.8,357.0 252.5,357.4 254.9,358.6 256.9,360.4 258.8,362.3 260.8,363.9 263.5,364.9 265.2,367.0 267.4,368.5 269.3,370.0 271.4,371.3 273.2,373.2 275.5,374.2 277.6,375.5 279.2,377.4 281.5,378.5 283.6,379.8 286.1,379.1 288.6,378.6 291.1,378.3 293.5,377.3 296.1,377.3 296.8,379.8 297.4,382.3 298.6,384.7 299.3,387.2 298.6,389.7 298.2,392.1 298.4,394.7 297.9,397.2 298.3,399.8 298.1,402.3 297.3,404.7 297.4,407.4 298.9,409.7 299.6,412.3 299.4,415.0 300.3,417.5 301.2,420.0 301.4,423.0 300.9,426.0 300.5,429.0 303.0,429.5 305.4,430.3 307.9,430.8 310.1,432.2 312.6,432.7 314.9,433.7 317.4,434.5 320.0,435.2 322.6,436.0 324.9,437.4" stroke-width="1.1"/>
<polyline points="283.6,379.8 282.3,382.3 281.0,384.7 279.5,387.0 278.6,389.7 277.7,392.1 277.3,394.6 277.5,397.2 276.4,399.6 276.6,402.2 276.1,404.7 275.3,407.4 274.6,410.0 273.1,412.4 272.1,415.0 270.8,417.3 269.0,419.3 267.1,421.2 264.6,421.9 262.0,422.6 259.6,423.7 257.5,425.4 256.2,427.8 254.3,429.7 252.1,431.2 249.7,432.1 247.1,432.4 244.6,432.7 242.1,433.4 239.7,434.4 237.3,433.5 234.7,433.5 232.2,433.0 229.7,433.0 227.2,432.4 224.7,432.6 222.2,432.8 219.7,432.4 217.2,432.3 214.7,432.3 212.2,432.5 209.7,432.4 207.2,432.9 204.8,433.5 202.2,433.3 199.8,434.0 197.2,434.2 194.8,434.9" stroke-width="1.1"/>
<polyline points="322.2,219.9 325.3,221.2 328.4,222.3 329.4,225.6 330.9,228.6 334.7,226.1 336.8,224.1 338.4,221.8 340.7,223.2 343.5,223.6 345.9,224.8 346.7,227.2 348.3,229.0 349.6,231.1 349.7,234.0 350.2,236.9 350.9,239.8 349.8,242.2 349.9,244.9 349.2,247.3 348.4,249.8 346.9,252.6 345.8,255.6 344.6,258.5 343.9,261.4 344.0,264.3 343.4,267.2 343.7,269.9 345.6,272.0 345.9,274.7 346.4,277.9 347.5,281.0 348.5,285.0 347.0,287.3 345.8,289.7 343.6,291.4 342.2,293.7 341.7,296.2 340.5,298.3 339.4,300.5 338.6,302.8 337.2,304.9 337.1,307.5 336.7,310.0 335.3,312.3 335.7,315.0 334.7,317.4 335.9,320.2 336.9,323.1 337.2,326.1 335.5,328.4 334.7,331.1 333.5,333.6 333.1,336.4 332.9,339.2 333.5,342.0 333.5,344.8 333.1,347.3 332.6,349.8 332.3,352.4 331.4,354.8 331.0,357.3 330.0,360.1 330.2,363.1 329.8,366.0 330.8,368.3 331.8,370.6 333.1,372.8 334.7,374.8 335.1,377.3 335.9,379.8 337.0,382.1 337.2,384.7 335.7,387.3 333.5,389.5 332.2,392.2 329.8,393.5 327.2,394.5 324.8,396.0 324.7,398.9 323.8,401.8 323.5,404.7 324.8,407.1 325.1,409.8 326.0,412.3 327.3,414.7 328.2,417.2 327.8,419.8 328.8,422.3 328.7,424.9 327.9,427.3 328.6,429.9 328.4,432.4 327.2,434.9 327.4,437.4 327.0,439.9 327.5,442.5 326.7,444.9 326.0,447.4 326.2,449.9 327.0,452.7 326.7,455.7 327.4,458.6 325.0,460.5 322.4,462.0 319.9,463.6 317.5,466.2 314.9,468.6 313.9,471.2 312.1,473.2 310.5,475.4 309.0,477.7 307.6,480.0 306.2,482.3 306.2,484.9 305.3,487.3 305.0,489.8 307.0,491.5 308.4,493.9 310.9,495.1 312.4,497.3 313.8,499.6 316.1,501.1 317.4,503.5" stroke-width="2.0"/>
<polyline points="338.4,221.8 341.0,223.8 343.4,226.1 344.1,229.2 345.4,232.1 347.1,234.8 346.6,237.3 346.8,239.8 346.6,242.3 347.1,244.8 347.2,247.4 346.0,249.8 345.9,252.4 344.8,254.7 344.6,257.3" stroke-width="2.0"/>
<polyline points="345.9,274.7 344.1,276.3 343.0,278.6 341.0,280.0 339.3,281.8 337.5,283.5 336.0,285.4 334.7,287.5 333.7,290.0 332.6,292.4 331.9,295.1 330.7,297.5 329.8,300.0 329.5,302.6 328.1,304.9 327.4,307.4 327.0,310.0 326.0,312.4 326.1,314.9 325.7,317.4 326.1,319.9 326.0,322.4 326.8,325.1 328.0,327.7 329.8,329.9 331.4,332.0 333.5,333.6" stroke-width="2.0"/>
<ellipse cx="297.3" cy="309.9" rx="6.5" ry="2" transform="rotate(-25 297.3 309.9)" stroke-width="0.9"/>
<polygon points="148.2,189.6 152.8,189.4 155.2,191.8 157.4,190.2 159.9,189.3 162.2,188.0 166.7,188.7 169.5,190.2 172.0,192.2 174.7,193.7 176.6,195.6 179.1,196.7 181.1,198.4 182.3,201.0 184.6,202.4 186.5,204.0 188.2,205.9 189.1,208.5 191.3,209.8 192.6,212.0 194.6,213.6 196.4,215.2 198.1,217.1 200.0,218.6 202.2,220.1 203.6,222.5 205.3,224.6 207.5,226.1 210.0,227.5 212.3,229.2 215.0,230.3 217.5,230.7 220.0,230.1 222.4,231.3 224.9,231.1 227.4,230.7 229.8,229.8 232.3,229.0 235.0,229.6 237.4,228.6 239.9,228.8 242.4,229.4 244.8,229.8 247.4,229.9 249.9,229.8 252.3,231.0 254.9,230.9 257.3,232.1 259.9,232.3 262.4,232.3 264.8,233.2 267.3,233.2 269.8,232.8 272.1,231.5 274.7,230.8 277.2,230.2 279.8,229.8 282.4,230.0 284.8,228.9 287.3,228.7 289.8,227.9 292.3,227.7 294.8,227.3 297.3,227.5 299.8,227.7 302.2,228.4 304.7,228.6 306.9,227.4 309.2,226.6 311.0,224.8 313.0,223.1 314.7,221.1 317.3,221.3 319.8,220.8 322.2,219.9 321.1,217.4 319.1,215.6 317.2,213.6 316.3,210.8 316.9,207.7 316.0,204.9 316.4,202.3 316.0,199.8 315.2,197.4 318.1,196.2 320.9,194.9 321.6,192.5 321.4,189.8 322.2,187.4 324.8,187.6 327.2,186.9 329.7,186.2 332.2,186.2 334.5,184.8 337.4,185.0 339.7,183.7 342.1,184.7 344.7,183.7 347.1,185.0 349.6,184.9 352.1,185.0 354.7,184.9 357.1,185.4 359.6,186.3 362.1,186.2 364.8,185.6 366.8,183.5 369.7,183.1 372.1,181.9 374.8,181.1 377.6,181.9 380.3,181.2 383.1,181.9 385.8,181.2 387.0,178.6 386.8,175.7 388.0,173.1 387.5,170.2 388.3,167.5 390.6,165.0 393.6,163.5 396.2,162.0 398.2,159.7 401.1,158.6 403.1,160.4 404.5,162.7 406.1,164.8 409.2,164.3 412.3,163.5 414.2,165.1 415.9,166.8 416.6,169.5 418.6,171.0 421.0,170.3 423.6,170.8 426.0,169.8 426.7,173.1 428.5,176.0 430.5,174.2 432.7,172.6 434.8,171.0 437.3,170.2 439.8,169.5 442.2,168.5 444.2,166.4 446.0,164.2 448.0,162.1 449.7,159.8 452.4,159.6 454.7,158.1 457.2,157.3 459.6,155.4 462.2,153.6 464.8,153.5 467.1,152.4 469.7,152.3 471.0,149.7 473.4,147.7 474.4,144.8 475.9,142.3 476.9,139.8 477.2,137.1 478.6,134.8 479.7,132.4 480.8,130.2 481.2,127.6 482.9,125.6 484.0,123.3 484.3,120.7 485.9,118.7 488.1,117.6 490.0,116.1 492.1,114.9 494.7,114.4 497.0,113.2 499.7,113.0 502.2,112.3 504.6,111.2 507.3,110.2 510.0,109.9 512.9,110.4 515.6,110.4 518.3,109.4 520.6,110.5 522.5,112.2 524.5,113.7 528.3,112.4 530.7,115.0 533.3,117.4 536.2,117.1 539.1,117.2 542.0,117.4 544.8,117.8 547.5,118.7 550.0,117.9 552.5,117.6 554.9,116.6 557.5,116.2 559.9,114.4 562.6,113.2 564.9,111.2 567.4,110.5 569.9,111.3 572.4,111.2 575.1,109.6 577.4,107.4 579.4,108.8 581.4,110.3 582.8,112.5 584.9,113.7 587.3,114.6 589.5,115.8 591.5,117.4 593.6,118.7 594.3,121.3 596.1,123.5 596.8,126.0 597.8,128.5 598.6,131.1 599.9,133.9 602.0,136.1 603.6,138.6 605.4,140.3 608.0,140.7 609.8,142.3 612.2,140.9 614.9,140.0 617.3,138.6 619.9,138.4 622.3,137.1 624.7,136.1 627.2,135.2 629.8,135.1 632.2,133.9 634.8,133.6 637.1,135.2 639.7,136.0 644.2,135.3 645.8,132.0 648.9,130.8 651.5,128.8 655.4,130.7 658.0,131.4 658.6,133.8 658.6,136.2 658.5,138.6 662.2,138.6 662.7,141.2 663.9,143.7 664.6,146.2 665.9,148.6 667.7,150.5 669.6,152.4 670.9,154.8 673.8,154.1 676.8,154.4 679.7,153.6 681.8,154.9 683.5,156.5 685.3,158.2 687.1,159.8 688.5,161.8 689.7,163.9 690.9,166.0 690.7,169.0 692.2,171.8 692.1,174.8 694.6,174.1 697.1,175.4 699.6,174.8 702.3,174.0 704.9,172.9 707.1,171.0 709.6,171.3 712.0,172.5 714.6,172.3 715.3,175.1 717.4,177.1 718.3,179.8 718.0,182.3 717.8,184.7 718.3,187.2 719.8,189.8 721.6,192.2 723.3,194.7 722.3,197.3 720.8,199.7 718.8,201.7 716.7,203.7 714.7,205.8 712.1,207.2 711.3,210.3 710.8,213.4 707.8,214.9 704.6,215.9 702.6,217.7 701.8,220.4 699.6,222.1 697.0,221.9 694.6,222.5 692.0,222.5 689.6,223.4 687.3,222.0 684.8,221.2 682.1,220.9 680.4,223.2 679.4,226.0 677.2,227.9 674.8,226.7 672.1,226.7 669.6,225.7 667.2,224.6 665.5,226.5 664.2,228.7 662.8,230.9 660.7,232.5 659.7,234.9 658.7,237.1 658.2,239.5 657.5,241.9 655.9,243.9 655.6,246.3 654.7,248.6 652.0,249.5 649.7,251.1 647.7,253.1 645.6,255.2 643.1,256.7 641.0,258.6 639.7,260.9 639.6,263.8 637.8,266.0 637.3,268.6 637.2,271.2 637.9,273.6 638.4,276.1 640.0,278.4 639.8,281.0 636.6,282.1 633.5,283.5 631.8,285.8 631.6,288.8 630.1,291.1 628.8,293.6 627.3,296.0 624.8,298.5 622.3,301.0 622.8,303.5 623.1,306.0 623.5,308.5 622.2,310.8 622.2,313.7 621.1,316.2 620.1,318.6 618.6,320.9 616.8,322.6 614.7,324.0 612.3,324.7 610.2,326.6 608.9,328.9 608.3,331.7 606.3,333.7 604.8,335.9 605.5,338.9 605.9,341.9 606.1,345.0 604.6,347.0 602.7,348.6 601.1,350.5 599.6,352.5 599.4,355.4 599.2,358.4 598.4,361.2 595.3,362.7 592.1,363.7 591.4,366.8 589.6,369.5 588.4,372.4 590.0,375.1 592.1,377.4 591.4,380.0 591.0,382.6 589.6,384.9 587.2,385.7 584.6,385.9 582.1,386.1 583.4,389.9 581.4,392.3 579.7,394.9 577.2,394.5 574.7,395.1 572.2,394.9 571.1,397.9 570.9,401.1 569.8,403.8 569.1,406.7 568.3,409.6 567.2,412.3 568.4,414.8 569.4,417.4 570.9,419.8 570.4,422.9 569.7,426.0 566.7,426.6 563.8,427.7 560.9,428.5 560.5,431.3 559.4,434.0 558.4,436.6 558.5,439.6 557.2,442.2 554.1,443.0 551.0,443.5 549.5,445.4 547.4,446.9 545.8,448.7 544.7,451.0 542.2,450.5 539.9,449.2 537.4,448.7 534.8,448.5 532.3,448.5 529.8,447.9 527.2,448.0 524.8,447.2 522.2,447.4 519.7,448.2 517.2,448.5 514.8,449.7 513.9,452.1 513.6,454.7 513.0,457.1 512.7,459.7 512.3,462.2 510.7,464.4 508.2,465.6 506.8,468.0 504.3,469.2 501.7,468.1 499.9,465.9 497.4,464.7 494.7,464.3 492.2,463.3 489.7,462.4 487.4,460.9 484.7,461.4 482.6,463.2 480.1,464.4 477.4,464.7 474.7,465.3 472.6,467.2 469.7,467.3 467.3,468.5 464.9,469.7 462.6,468.0 460.3,466.6 457.5,465.9 454.6,465.0 451.7,463.8 448.7,463.4 446.8,465.1 444.1,465.3 442.1,466.8 440.9,464.5 439.6,462.3 437.1,462.3 434.7,463.5 432.1,462.9 429.7,463.6 426.9,464.3 425.0,466.6 422.3,467.6 419.7,468.6 417.6,467.0 415.6,465.1 412.9,464.2 410.9,462.3 408.4,462.3 405.9,461.8 403.5,461.1 400.5,461.3 397.6,461.5 394.7,462.3 392.4,464.9 389.8,467.3 388.4,469.3 386.8,471.1 385.2,473.1 383.5,474.8 381.4,476.4 379.5,478.4 377.0,479.4 374.8,481.0 372.0,481.7 369.9,483.6 367.3,484.8 364.8,488.5 362.1,488.2 359.3,489.0 356.6,488.2 353.8,488.1 351.1,488.5 348.8,485.8 346.1,483.5 345.2,486.4 344.5,489.4 343.6,492.3 341.6,493.7 339.5,495.0 338.3,497.3 336.1,498.5 333.1,498.7 330.3,497.4 327.4,497.3 324.3,498.0 321.6,499.7 318.7,501.0 317.4,503.5 314.9,503.2 312.5,502.4 309.9,502.7 307.4,502.2 304.9,501.8 302.5,501.0 300.7,503.4 299.4,506.1 297.5,508.5 295.9,510.9 293.5,512.7 291.4,514.6 290.0,517.2 287.8,518.4 285.3,518.8 283.1,520.1 280.8,520.9 278.3,524.7 275.4,523.0 272.1,522.2 269.6,522.0 267.1,522.3 264.6,522.2 262.1,521.7 259.4,521.4 257.1,519.9 254.5,519.2 251.9,518.5 249.6,517.2 246.6,518.9 243.4,520.2 240.6,519.6 238.0,518.2 235.0,518.2 232.6,516.2 229.7,516.0 227.2,516.8 224.7,517.5 222.2,518.4 219.7,519.2 218.0,517.4 216.0,516.0 213.7,514.9 211.7,513.6 209.7,512.2 207.0,511.0 204.3,509.9 201.3,509.6 198.5,508.5 197.5,506.2 196.6,503.8 194.7,502.0 193.5,499.8 191.2,498.2 189.1,496.4 187.3,494.3 184.8,494.0 182.3,494.1 179.8,493.7 177.3,493.8 174.8,494.3 171.5,493.0 168.6,491.0 166.1,489.5 164.0,487.5 161.8,485.7 159.9,483.5 158.9,481.1 157.8,478.8 156.6,476.5 154.6,474.7 153.6,472.3 153.1,469.6 151.4,467.4 150.5,464.9 149.9,462.3 148.6,459.9 146.0,458.9 143.8,457.4 142.1,455.0 139.5,454.1 137.4,452.4 135.2,451.3 133.3,449.8 131.3,448.4 128.7,448.0 126.9,446.3 124.9,444.9 124.0,442.4 123.2,439.9 122.4,437.4 120.8,435.4 120.1,433.0 119.3,430.6 117.5,428.7 115.2,427.8 113.0,426.6 110.5,426.2 108.3,425.0 106.2,423.7 104.8,421.4 102.7,419.7 102.0,416.9 100.0,415.0 97.6,413.7 94.9,413.5 92.7,412.4 91.5,409.9 89.2,408.9 87.4,407.2 87.3,404.7 86.9,402.2 86.1,399.8 84.6,397.8 83.8,395.5 82.4,393.5 80.7,391.5 79.0,389.4 76.5,388.1 74.9,386.0 76.5,383.0 77.4,379.8 75.8,377.3 73.4,375.5 71.2,373.6 70.2,371.4 68.6,369.4 68.0,367.0 66.9,364.8 68.2,361.6 69.9,358.6 67.6,355.9 64.9,353.6 62.5,353.1 60.0,352.9 57.4,353.1 55.0,352.4 52.5,352.4 50.0,352.6 47.5,353.4 45.0,353.1 47.2,351.9 48.9,350.1 50.3,347.9 52.9,347.2 54.0,344.8 56.2,343.6 58.6,342.2 61.3,341.4 63.7,339.9 64.4,336.8 64.9,333.7 67.4,334.2 69.9,334.7 72.4,334.9 74.9,334.6 77.4,334.2 79.9,333.8 82.4,333.5 84.9,334.2 87.4,333.7 85.8,331.5 83.6,329.9 85.3,327.9 87.2,326.0 88.6,323.7 86.6,321.3 84.9,318.7 85.8,315.5 87.4,312.5 84.8,310.1 82.4,307.5 82.5,304.9 80.9,302.6 81.1,300.0 84.9,298.4 85.5,295.9 86.1,293.4 84.9,291.0 84.8,288.3 83.6,286.0 86.1,282.2 85.3,279.1 84.9,276.0 87.8,275.8 90.7,275.9 93.6,276.0 95.5,274.5 97.6,273.2 99.1,271.2 101.1,269.8 103.9,268.5 105.8,266.0 108.6,264.8 109.6,262.5 110.6,260.3 112.3,258.5 110.1,257.0 108.6,254.8 108.6,252.2 108.0,249.7 107.3,247.3 104.0,246.5 101.1,244.8 98.2,244.3 95.5,243.1 92.8,241.7 89.9,241.1 88.0,239.3 85.9,237.9 83.6,236.8 85.6,235.3 87.4,233.6 90.3,231.9 93.6,231.1 95.4,228.2 97.4,225.4 100.3,225.0 103.2,225.4 106.1,225.4 107.9,227.7 109.8,229.9 112.3,228.6 113.5,231.2 114.3,234.0 114.8,236.8 117.7,237.2 120.6,236.1 123.5,236.8 125.4,234.1 126.5,231.1 127.0,233.8 128.5,236.1 131.0,236.4 133.3,235.3 135.7,235.2 138.1,235.0 140.5,234.7 143.0,234.9 145.3,234.2 147.7,233.6 147.4,231.1 148.2,228.6 147.7,226.1 147.7,223.6 147.3,221.1 146.9,218.5 146.0,216.1 143.9,213.7 143.0,210.6 146.0,210.7 149.0,210.0 149.5,207.5 149.5,204.9 149.7,202.4 150.9,200.1 152.0,197.8 153.2,195.5 154.6,192.6 152.4,190.2" stroke-width="1.4"/>
</g>
<rect x="737.3" y="72.50" width="14.3" height="24.17" fill="#0000f0"/>
<rect x="737.3" y="96.37" width="14.3" height="24.17" fill="#0014d2"/>
<rect x="737.3" y="120.24" width="14.3" height="24.17" fill="#0028be"/>
<rect x="737.3" y="144.11" width="14.3" height="24.17" fill="#003caa"/>
<rect x="737.3" y="167.97" width="14.3" height="24.17" fill="#005a96"/>
<rect x="737.3" y="191.84" width="14.3" height="24.17" fill="#007878"/>
<rect x="737.3" y="215.71" width="14.3" height="24.17" fill="#008c64"/>
<rect x="737.3" y="239.58" width="14.3" height="24.17" fill="#00aa46"/>
<rect x="737.3" y="263.45" width="14.3" height="24.17" fill="#00be32"/>
<rect x="737.3" y="287.32" width="14.3" height="24.17" fill="#00d21e"/>
<rect x="737.3" y="311.18" width="14.3" height="24.17" fill="#00e60a"/>
<rect x="737.3" y="335.05" width="14.3" height="24.17" fill="#64f000"/>
<rect x="737.3" y="358.92" width="14.3" height="24.17" fill="#8cf000"/>
<rect x="737.3" y="382.79" width="14.3" height="24.17" fill="#b4f000"/>
<rect x="737.3" y="406.66" width="14.3" height="24.17" fill="#f0f000"/>
<rect x="737.3" y="430.53" width="14.3" height="24.17" fill="#f0d200"/>
<rect x="737.3" y="454.39" width="14.3" height="24.17" fill="#f0b400"/>
<rect x="737.3" y="478.26" width="14.3" height="24.17" fill="#f09600"/>
<rect x="737.3" y="502.13" width="14.3" height="24.17" fill="#f07800"/>
<line x1="752" x2="755.5" y1="72.50" y2="72.50" stroke="#555" stroke-width="0.8"/>
<text x="805" y="78.00" text-anchor="end" class="lg">400 %</text>
<line x1="737.3" x2="751.6" y1="96.37" y2="96.37" stroke="#000" stroke-opacity="0.35" stroke-width="0.8"/>
<line x1="752" x2="755.5" y1="96.37" y2="96.37" stroke="#555" stroke-width="0.8"/>
<text x="805" y="101.87" text-anchor="end" class="lg">360 %</text>
<line x1="737.3" x2="751.6" y1="120.24" y2="120.24" stroke="#000" stroke-opacity="0.35" stroke-width="0.8"/>
<line x1="752" x2="755.5" y1="120.24" y2="120.24" stroke="#555" stroke-width="0.8"/>
<text x="805" y="125.74" text-anchor="end" class="lg">320 %</text>
<line x1="737.3" x2="751.6" y1="144.11" y2="144.11" stroke="#000" stroke-opacity="0.35" stroke-width="0.8"/>
<line x1="752" x2="755.5" y1="144.11" y2="144.11" stroke="#555" stroke-width="0.8"/>
<text x="805" y="149.61" text-anchor="end" class="lg">280 %</text>
<line x1="737.3" x2="751.6" y1="167.97" y2="167.97" stroke="#000" stroke-opacity="0.35" stroke-width="0.8"/>
<line x1="752" x2="755.5" y1="167.97" y2="167.97" stroke="#555" stroke-width="0.8"/>
<text x="805" y="173.47" text-anchor="end" class="lg">240 %</text>
<line x1="737.3" x2="751.6" y1="191.84" y2="191.84" stroke="#000" stroke-opacity="0.35" stroke-width="0.8"/>
<line x1="752" x2="755.5" y1="191.84" y2="191.84" stroke="#555" stroke-width="0.8"/>
<text x="805" y="197.34" text-anchor="end" class="lg">200 %</text>
<line x1="737.3" x2="751.6" y1="215.71" y2="215.71" stroke="#000" stroke-opacity="0.35" stroke-width="0.8"/>
<line x1="752" x2="755.5" y1="215.71" y2="215.71" stroke="#555" stroke-width="0.8"/>
<text x="805" y="221.21" text-anchor="end" class="lg">160 %</text>
<line x1="737.3" x2="751.6" y1="239.58" y2="239.58" stroke="#000" stroke-opacity="0.35" stroke-width="0.8"/>
<line x1="752" x2="755.5" y1="239.58" y2="239.58" stroke="#555" stroke-width="0.8"/>
<text x="805" y="245.08" text-anchor="end" class="lg">140 %</text>
<line x1="737.3" x2="751.6" y1="263.45" y2="263.45" stroke="#000" stroke-opacity="0.35" stroke-width="0.8"/>
<line x1="752" x2="755.5" y1="263.45" y2="263.45" stroke="#555" stroke-width="0.8"/>
<text x="805" y="268.95" text-anchor="end" class="lg">120 %</text>
<line x1="737.3" x2="751.6" y1="287.32" y2="287.32" stroke="#000" stroke-opacity="0.35" stroke-width="0.8"/>
<line x1="752" x2="755.5" y1="287.32" y2="287.32" stroke="#555" stroke-width="0.8"/>
<text x="805" y="292.82" text-anchor="end" class="lg">100 %</text>
<line x1="737.3" x2="751.6" y1="311.18" y2="311.18" stroke="#000" stroke-opacity="0.35" stroke-width="0.8"/>
<line x1="752" x2="755.5" y1="311.18" y2="311.18" stroke="#555" stroke-width="0.8"/>
<text x="805" y="316.68" text-anchor="end" class="lg">80 %</text>
<line x1="737.3" x2="751.6" y1="335.05" y2="335.05" stroke="#000" stroke-opacity="0.35" stroke-width="0.8"/>
<line x1="752" x2="755.5" y1="335.05" y2="335.05" stroke="#555" stroke-width="0.8"/>
<text x="805" y="340.55" text-anchor="end" class="lg">60 %</text>
<line x1="737.3" x2="751.6" y1="358.92" y2="358.92" stroke="#000" stroke-opacity="0.35" stroke-width="0.8"/>
<line x1="752" x2="755.5" y1="358.92" y2="358.92" stroke="#555" stroke-width="0.8"/>
<text x="805" y="364.42" text-anchor="end" class="lg">50 %</text>
<line x1="737.3" x2="751.6" y1="382.79" y2="382.79" stroke="#000" stroke-opacity="0.35" stroke-width="0.8"/>
<line x1="752" x2="755.5" y1="382.79" y2="382.79" stroke="#555" stroke-width="0.8"/>
<text x="805" y="388.29" text-anchor="end" class="lg">40 %</text>
<line x1="737.3" x2="751.6" y1="406.66" y2="406.66" stroke="#000" stroke-opacity="0.35" stroke-width="0.8"/>
<line x1="752" x2="755.5" y1="406.66" y2="406.66" stroke="#555" stroke-width="0.8"/>
<text x="805" y="412.16" text-anchor="end" class="lg">30 %</text>
<line x1="737.3" x2="751.6" y1="430.53" y2="430.53" stroke="#000" stroke-opacity="0.35" stroke-width="0.8"/>
<line x1="752" x2="755.5" y1="430.53" y2="430.53" stroke="#555" stroke-width="0.8"/>
<text x="805" y="436.03" text-anchor="end" class="lg">20 %</text>
<line x1="737.3" x2="751.6" y1="454.39" y2="454.39" stroke="#000" stroke-opacity="0.35" stroke-width="0.8"/>
<line x1="752" x2="755.5" y1="454.39" y2="454.39" stroke="#555" stroke-width="0.8"/>
<text x="805" y="459.89" text-anchor="end" class="lg">15 %</text>
<line x1="737.3" x2="751.6" y1="478.26" y2="478.26" stroke="#000" stroke-opacity="0.35" stroke-width="0.8"/>
<line x1="752" x2="755.5" y1="478.26" y2="478.26" stroke="#555" stroke-width="0.8"/>
<text x="805" y="483.76" text-anchor="end" class="lg">10 %</text>
<line x1="737.3" x2="751.6" y1="502.13" y2="502.13" stroke="#000" stroke-opacity="0.35" stroke-width="0.8"/>
<line x1="752" x2="755.5" y1="502.13" y2="502.13" stroke="#555" stroke-width="0.8"/>
<text x="805" y="507.63" text-anchor="end" class="lg">5 %</text>
<line x1="752" x2="755.5" y1="526.00" y2="526.00" stroke="#555" stroke-width="0.8"/>
<text x="805" y="531.50" text-anchor="end" class="lg">0 %</text>
<rect x="737.3" y="72.5" width="14.3" height="453.5" fill="none" stroke="#000" stroke-width="1"/>
<text x="515" y="526.5" class="ip" textLength="128" lengthAdjust="spacing">Interpolation by MISH</text>
<g>
<path d="M56.6,489.8 H101.2 V530 C101.2,539.5 93,547.5 79,551.2 C65,547.5 56.6,539.5 56.6,530 Z" fill="#17386b"/>
<text x="59.2" y="503.7" textLength="40.4" lengthAdjust="spacingAndGlyphs" style="font-family:'Liberation Sans',sans-serif;font-weight:bold;font-size:14px;fill:#fff">OMSZ</text>
<g fill="#fff" stroke="#fff" stroke-width="0.6" stroke-linejoin="round">
<path d="M66,514.6 C69,513.4 76,513 81.5,512.4 L90,509.9 L92.4,511.2 L90.2,513 L96.6,514.3 L98.4,516.7 L94.8,517.7 L96.6,520.3 L93.8,520.3 C95.2,524 96.8,530 94.8,537.3 C94.6,531 93.6,523.6 91.2,519.6 C88.4,516.4 82,516.4 77,517.2 C73.4,517.8 70,518.6 68.4,519.4 C66,522.6 65.6,528.4 67.6,532 C69.6,535.4 73.4,537 76.6,536.6 C79.4,536.2 81.2,534 81,531.6 C80.6,529.2 78.2,527.6 75.8,528 C73.6,528.4 72.4,530.4 73,532.2 C73.6,533.8 75.6,534.2 76.6,533 C77.2,532 76.6,531 75.6,531.2 C76.2,530 78,530.2 78.6,531.6 C79.2,533.4 77.8,535.2 75.8,535.4 C73,535.6 70.8,533.2 71,530.4 C71.4,527.2 74.4,525.2 77.6,525.6 C81.4,526.2 84,529.6 83.6,533.4 C83.2,536 82,537.4 85.1,537.3 C83,540 78,542.3 73,542.1 C68.6,541.8 64.4,539 62.2,534.8 C60,530.4 60,524.4 61.5,520.3 C62.4,517.8 64,515.6 66,514.6 Z"/>
<path d="M76.5,510.6 l1.0,-2.2 l4.2,0.4 l0.2,1.2 l-3.0,0.2 l-0.4,1.2 z" stroke="none"/>
<g stroke="none"><circle cx="86.5" cy="531.5" r="0.7"/><circle cx="89.5" cy="536" r="0.6"/><circle cx="86" cy="540.5" r="0.7"/><circle cx="90.8" cy="529.5" r="0.6"/><circle cx="88.8" cy="542" r="0.5"/><circle cx="82.5" cy="543.6" r="0.6"/><circle cx="92.3" cy="534" r="0.5"/><circle cx="84.5" cy="527.5" r="0.6"/><circle cx="88" cy="533.5" r="0.5"/></g>
</g>
<g stroke="#17386b" stroke-width="0.7" fill="none">
<path d="M61.5,527 l3.6,-1.2 M61.4,530.5 l3.6,-0.6 M62,523.6 l3.2,-1.8 M63.4,520.4 l3,-2.2 M62.6,534 l3,0"/>
</g>
</g>
</svg>
</body></html>
